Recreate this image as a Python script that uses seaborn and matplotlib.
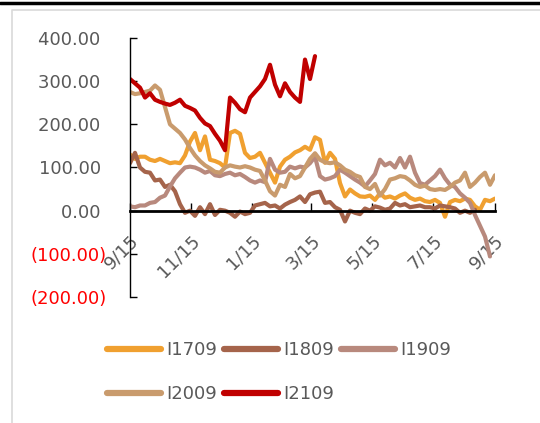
import numpy as np
import pandas as pd
import matplotlib
matplotlib.use("Agg")
import matplotlib.pyplot as plt
from matplotlib.lines import Line2D
import seaborn as sns

sns.set_theme(style="white")
plt.rcParams['font.family'] = ['DejaVu Sans']

# one value every 5 days starting 2020-09-15
start = '2020-09-15'

i1709 = [130, 120, 125, 125, 118, 115, 120, 115, 110, 112,
         110, 128, 160, 180, 140, 172, 118, 115, 110, 100,
         180, 185, 178, 134, 122, 125, 134, 111, 88, 65,
         102, 118, 125, 135, 140, 148, 141, 170, 164, 111,
         134, 120, 64, 33, 49, 40, 33, 32, 35, 25,
         40, 30, 33, 28, 35, 40, 30, 25, 28, 22,
         20, 25, 18, -14, 20, 25, 22, 28, 25, 10,
         2, 25, 22, 28]
i1809 = [110, 134, 100, 90, 88, 70, 72, 55, 60, 45,
         15, -5, 0, -12, 8, -8, 15, -10, 2, 0,
         -5, -14, -2, -8, -5, 12, 15, 18, 10, 12,
         5, 14, 20, 25, 33, 20, 38, 42, 44, 18,
         20, 8, 2, -25, 0, -5, -8, 5, 0, 10,
         7, 2, 5, 18, 12, 15, 8, 10, 12, 8,
         8, 5, 12, 10, 8, 5, -5, 0, -5, 2]
i1909 = [10, 8, 12, 12, 18, 20, 30, 35, 56, 75,
         88, 100, 102, 100, 95, 88, 92, 82, 80, 85,
         88, 82, 85, 78, 70, 65, 70, 66, 120, 95,
         88, 90, 102, 98, 102, 100, 110, 125, 80, 72,
         75, 80, 95, 88, 80, 72, 65, 56, 70, 85,
         118, 105, 111, 100, 122, 100, 125, 88, 64, 60,
         70, 80, 95, 75, 60, 55, 40, 30, 18, -10,
         -35, -60, -106]
i2009 = [275, 270, 272, 275, 278, 290, 280, 240, 200, 190,
         180, 165, 145, 128, 115, 105, 98, 90, 88, 100,
         105, 102, 100, 103, 100, 95, 92, 70, 45, 35,
         60, 55, 85, 75, 80, 100, 120, 133, 118, 112,
         110, 112, 105, 95, 90, 82, 78, 55, 50, 62,
         35, 50, 72, 75, 80, 78, 70, 60, 55, 58,
         50, 48, 50, 48, 55, 65, 70, 88, 55, 65,
         78, 88, 60, 82]
i2109 = [305, 295, 285, 262, 272, 257, 252, 248, 245, 250,
         257, 243, 238, 232, 215, 202, 196, 178, 162, 140,
         262, 250, 235, 228, 262, 275, 288, 305, 338, 292,
         265, 295, 275, 262, 252, 350, 305, 358]

names = ['I1709', 'I1809', 'I1909', 'I2009', 'I2109']
colors = ['#F0A030', '#A5644B', '#B8897D', '#C99B6D', '#C00000']

tick_dates = ['2020-09-15', '2020-11-15', '2021-01-15', '2021-03-15',
              '2021-05-15', '2021-07-15', '2021-09-15']
tick_labels = ['9/15', '11/15', '1/15', '3/15', '5/15', '7/15', '9/15']
ytick_vals = [-200, -100, 0, 100, 200, 300, 400]
ytick_labels = ['(200.00)', '(100.00)', '0.00 ', '100.00 ', '200.00 ',
                '300.00 ', '400.00 ']

frames = []
for n, vals in zip(names, [i1709, i1809, i1909, i2009, i2109]):
    frames.append(pd.DataFrame({'date': pd.date_range(start, periods=len(vals), freq='5D'),
                                'value': vals, 'series': n}))
df = pd.concat(frames, ignore_index=True)

fig = plt.figure(figsize=(5.4, 4.23), dpi=100)
ax = fig.add_axes([130 / 540, 1 - 297 / 423, 365 / 540, 259 / 423])

sns.lineplot(data=df, x='date', y='value', hue='series', hue_order=names,
             palette=colors, linewidth=3.0, legend=False, ax=ax)
for ln in ax.get_lines():
    ln.set_solid_capstyle('round')
    ln.set_solid_joinstyle('round')

ax.set_xlim(pd.Timestamp(tick_dates[0]), pd.Timestamp(tick_dates[-1]))
ax.set_ylim(-200, 400)
ax.set_xlabel('')
ax.set_ylabel('')

ax.spines['top'].set_visible(False)
ax.spines['right'].set_visible(False)
ax.spines['bottom'].set_position(('data', 0))
ax.spines['bottom'].set_color('black')
ax.spines['bottom'].set_linewidth(2)
ax.spines['left'].set_color('black')
ax.spines['left'].set_linewidth(1)

ax.set_xticks(pd.to_datetime(tick_dates))
ax.set_xticklabels(tick_labels, rotation=45, ha='right', rotation_mode='anchor')
ax.set_yticks(ytick_vals)
ax.set_yticklabels(ytick_labels)
ax.tick_params(axis='x', direction='in', length=6, width=1, color='black',
               labelsize=13, labelcolor='#595959', pad=15, bottom=True)
ax.tick_params(axis='y', direction='in', length=5, width=1, color='black',
               labelsize=13, labelcolor='#595959', pad=17, left=True)
for lab, v in zip(ax.get_yticklabels(), ytick_vals):
    if v < 0:
        lab.set_color('#FF0000')

# legend fills column by column, so reorder to get rows I1709 I1809 I1909 / I2009 I2109
order = [0, 3, 1, 4, 2]
handles = [Line2D([0], [0], color=colors[i], lw=4.5, solid_capstyle='round') for i in order]
fig.legend(handles, [names[i] for i in order], loc='upper left',
           bbox_to_anchor=(107 / 540, 1 - 341 / 423),
           ncol=3, frameon=False, fontsize=13, handlelength=3.0, handletextpad=0.3,
           columnspacing=0.35, labelspacing=1.45, borderpad=0, borderaxespad=0,
           labelcolor='#595959')

# chart frame bits
fig.add_artist(Line2D([0, 1], [1 - 3 / 423] * 2, transform=fig.transFigure,
                      color='black', lw=2.5))
fig.add_artist(Line2D([12 / 540, 12 / 540, 1], [0, 1 - 10 / 423, 1 - 10 / 423],
                      transform=fig.transFigure, color='#D9D9D9', lw=1.2))

plt.savefig('out.png', dpi=100)
